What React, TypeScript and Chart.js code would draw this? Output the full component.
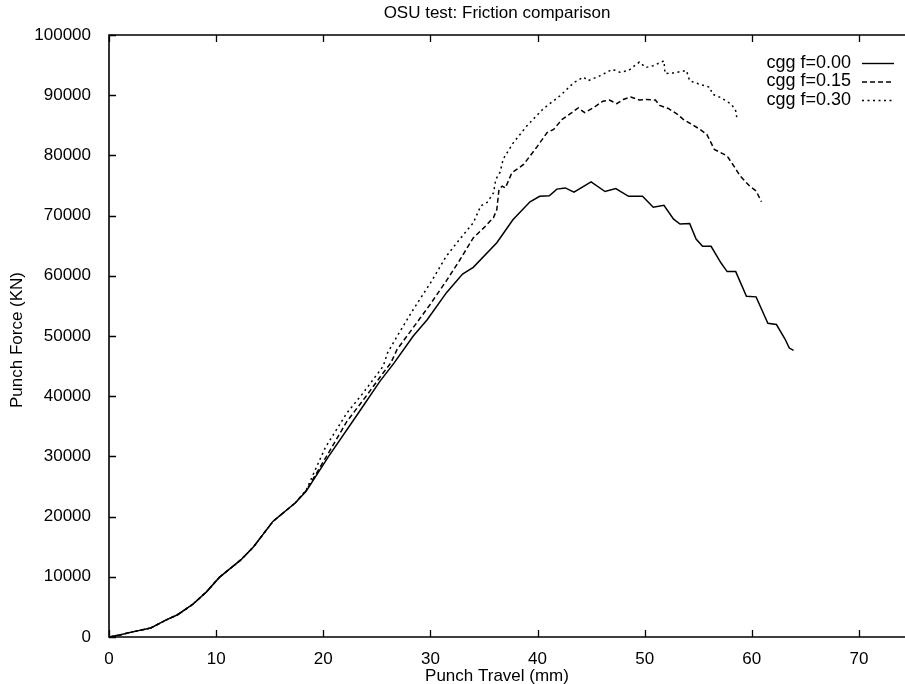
import React, { useEffect, useRef } from "react";
import { Chart, registerables } from "chart.js";
Chart.register(...registerables);

const TITLE = "OSU test: Friction comparison";
const X_TITLE = "Punch Travel (mm)";
const Y_TITLE = "Punch Force (KN)";
const SERIES_LABELS = ["cgg f=0.00", "cgg f=0.15", "cgg f=0.30"];
const X_TICKS = [0, 10, 20, 30, 40, 50, 60, 70];
const Y_TICKS = [0, 10000, 20000, 30000, 40000, 50000, 60000, 70000, 80000, 90000, 100000];

const travel000 = [0, 1, 2.2, 3.9, 5.3, 6.4, 7.8, 9.1, 10.3, 12.3, 13.5, 15.3, 17.4, 18.4, 20.5, 23.2, 25.3, 26.6, 28.4, 29.7, 31.5, 33.0, 34.0, 36.2, 37.7, 39.3, 40.2, 41.1, 41.8, 42.6, 43.4, 45.0, 46.3, 47.3, 48.5, 49.8, 50.8, 51.8, 52.7, 53.3, 54.2, 54.8, 55.4, 56.2, 57.1, 57.7, 58.5, 59.5, 60.4, 61.1, 61.5, 62.3, 63.1, 63.5, 63.9];
const force000 = [0, 350, 850, 1500, 2800, 3700, 5400, 7500, 9900, 12800, 15000, 19200, 22300, 24200, 30000, 37000, 42500, 45500, 50000, 52700, 57200, 60300, 61400, 65500, 69300, 72300, 73200, 73300, 74400, 74600, 73900, 75600, 74000, 74500, 73200, 73200, 71400, 71700, 69400, 68600, 68700, 66100, 64900, 64900, 62200, 60700, 60700, 56600, 56500, 53700, 52100, 51900, 49500, 48000, 47600];

const travel015 = [0, 1, 2.2, 3.9, 5.3, 6.4, 7.8, 9.1, 10.3, 12.3, 13.5, 15.3, 17.4, 18.4, 20.4, 22.2, 24.0, 25.6, 26.3, 26.9, 28.4, 30.0, 31.5, 32.7, 34.0, 35.0, 35.9, 36.2, 36.4, 36.7, 37.0, 37.6, 38.7, 39.9, 40.9, 41.5, 42.3, 43.2, 43.8, 44.4, 45.2, 46.1, 46.7, 47.4, 48.0, 48.7, 49.5, 50.2, 51.0, 51.4, 52.2, 53.0, 53.6, 55.1, 55.8, 56.5, 57.7, 58.3, 58.9, 59.8, 60.4, 60.9];
const force015 = [0, 350, 850, 1500, 2800, 3700, 5400, 7500, 9900, 12800, 15000, 19200, 22300, 24300, 30300, 35800, 40000, 43900, 45500, 47800, 51400, 55300, 59200, 62500, 66300, 68000, 69700, 71000, 74300, 74900, 74600, 77100, 78500, 81300, 83800, 84300, 86000, 87100, 87900, 87100, 87900, 89000, 89200, 88600, 89300, 89700, 89200, 89300, 89200, 88300, 87800, 86900, 86000, 84400, 83500, 81000, 79900, 78300, 76600, 74900, 74100, 72300];

const travel030 = [0, 1, 2.2, 3.9, 5.3, 6.4, 7.8, 9.1, 10.3, 12.3, 13.5, 15.3, 17.4, 18.4, 20.2, 22.2, 23.7, 25.6, 26.0, 26.9, 28.4, 30.0, 31.5, 32.7, 34.0, 34.7, 35.3, 35.9, 36.1, 36.5, 36.8, 37.7, 39.0, 40.5, 42.1, 43.4, 44.3, 44.7, 45.8, 47.0, 47.7, 48.5, 49.5, 50.1, 50.8, 51.8, 51.9, 52.7, 53.9, 54.2, 55.0, 56.1, 56.3, 57.1, 58.1, 58.5, 58.6];
const force030 = [0, 350, 850, 1500, 2800, 3700, 5400, 7500, 9900, 12800, 15000, 19200, 22300, 24400, 31500, 37200, 40500, 45000, 47200, 50000, 54400, 58800, 63300, 66000, 68800, 71600, 72200, 73800, 76000, 77200, 79400, 82000, 84900, 87700, 89900, 92100, 93000, 92400, 93200, 94300, 93800, 94100, 95500, 94600, 94900, 95700, 93600, 93700, 94100, 92400, 91900, 91300, 90200, 89600, 88500, 87400, 86300];

const FONT = "'Liberation Sans', Arial, Helvetica, sans-serif";
const DASHES: number[][] = [[], [5, 3], [2, 3.5]];

function pts(xs: number[], ys: number[]) {
  return xs.map((x, i) => ({ x, y: ys[i] }));
}

const decorPlugin = {
  id: "decor",
  afterDraw(chart: any) {
    const { ctx, chartArea: a, scales } = chart;
    const xs = scales.x;
    const ys = scales.y;
    ctx.save();
    ctx.strokeStyle = "#000";
    ctx.lineWidth = 1.6;
    ctx.beginPath();
    ctx.moveTo(a.right, a.top);
    ctx.lineTo(a.left, a.top);
    ctx.lineTo(a.left, a.bottom);
    ctx.lineTo(a.right, a.bottom);
    ctx.stroke();

    ctx.lineWidth = 1.3;
    ctx.beginPath();
    for (const v of X_TICKS) {
      const px = Math.round(xs.getPixelForValue(v)) + 0.5;
      ctx.moveTo(px, a.bottom);
      ctx.lineTo(px, a.bottom - 7);
      ctx.moveTo(px, a.top);
      ctx.lineTo(px, a.top + 7);
    }
    for (const v of Y_TICKS) {
      const py = Math.round(ys.getPixelForValue(v)) + 0.5;
      ctx.moveTo(a.left, py);
      ctx.lineTo(a.left + 7, py);
    }
    ctx.stroke();

    ctx.fillStyle = "#000";
    ctx.font = "17px " + FONT;
    ctx.textAlign = "center";
    ctx.textBaseline = "middle";
    ctx.fillText(TITLE, 497, 13);

    ctx.font = "17px " + FONT;
    ctx.fillText(X_TITLE, 497, 676);

    ctx.save();
    ctx.translate(17, 340);
    ctx.rotate(-Math.PI / 2);
    ctx.fillText(Y_TITLE, 0, 0);
    ctx.restore();

    // legend
    ctx.font = "18px " + FONT;
    ctx.textAlign = "right";
    const rows = [63, 81.5, 100];
    chart.data.datasets.forEach((ds: any, i: number) => {
      const y = rows[i];
      ctx.fillText(ds.label, 851, y);
      ctx.save();
      ctx.setLineDash(ds.borderDash || []);
      ctx.lineWidth = 1.4;
      ctx.beginPath();
      ctx.moveTo(862, y + 0.5);
      ctx.lineTo(894, y + 0.5);
      ctx.stroke();
      ctx.restore();
    });
    ctx.restore();
  },
};

export default function App() {
  const ref = useRef<HTMLCanvasElement>(null);
  useEffect(() => {
    document.body.style.margin = "0";
    const canvas = ref.current!;
    const seriesX = [travel000, travel015, travel030];
    const seriesY = [force000, force015, force030];
    const chart = new Chart(canvas, {
      type: "line",
      data: {
        datasets: SERIES_LABELS.map((label, i) => ({
          label,
          data: pts(seriesX[i], seriesY[i]),
          borderColor: "#000",
          borderWidth: 1.5,
          borderDash: DASHES[i],
          pointRadius: 0,
          tension: 0,
          fill: false,
        })),
      },
      options: {
        animation: false,
        responsive: false,
        devicePixelRatio: 1,
        layout: { padding: { top: 35, right: 0, left: 0, bottom: 0 } },
        plugins: { legend: { display: false }, title: { display: false }, tooltip: { enabled: false } },
        scales: {
          x: {
            type: "linear",
            min: 0,
            max: 74.3,
            grid: { display: false },
            border: { display: false },
            afterBuildTicks: (s: any) => {
              s.ticks = X_TICKS.map((v) => ({ value: v }));
            },
            afterFit: (s: any) => {
              s.height = 47;
            },
            ticks: {
              padding: 4,
              color: "#000",
              font: { family: FONT, size: 17 },
              maxRotation: 0,
              callback: (v: any) => String(v),
            },
          },
          y: {
            type: "linear",
            min: 0,
            max: 100000,
            grid: { display: false },
            border: { display: false },
            afterBuildTicks: (s: any) => {
              s.ticks = Y_TICKS.map((v) => ({ value: v }));
            },
            afterFit: (s: any) => {
              s.width = 109;
            },
            ticks: {
              padding: 10,
              color: "#000",
              font: { family: FONT, size: 17 },
              callback: (v: any) => String(v),
            },
          },
        },
      },
      plugins: [decorPlugin],
    });
    return () => chart.destroy();
  }, []);
  return (
    <div style={{ position: "absolute", left: 0, top: 0 }}>
      <canvas ref={ref} width={905} height={684} style={{ display: "block", width: 905, height: 684 }} />
    </div>
  );
}
